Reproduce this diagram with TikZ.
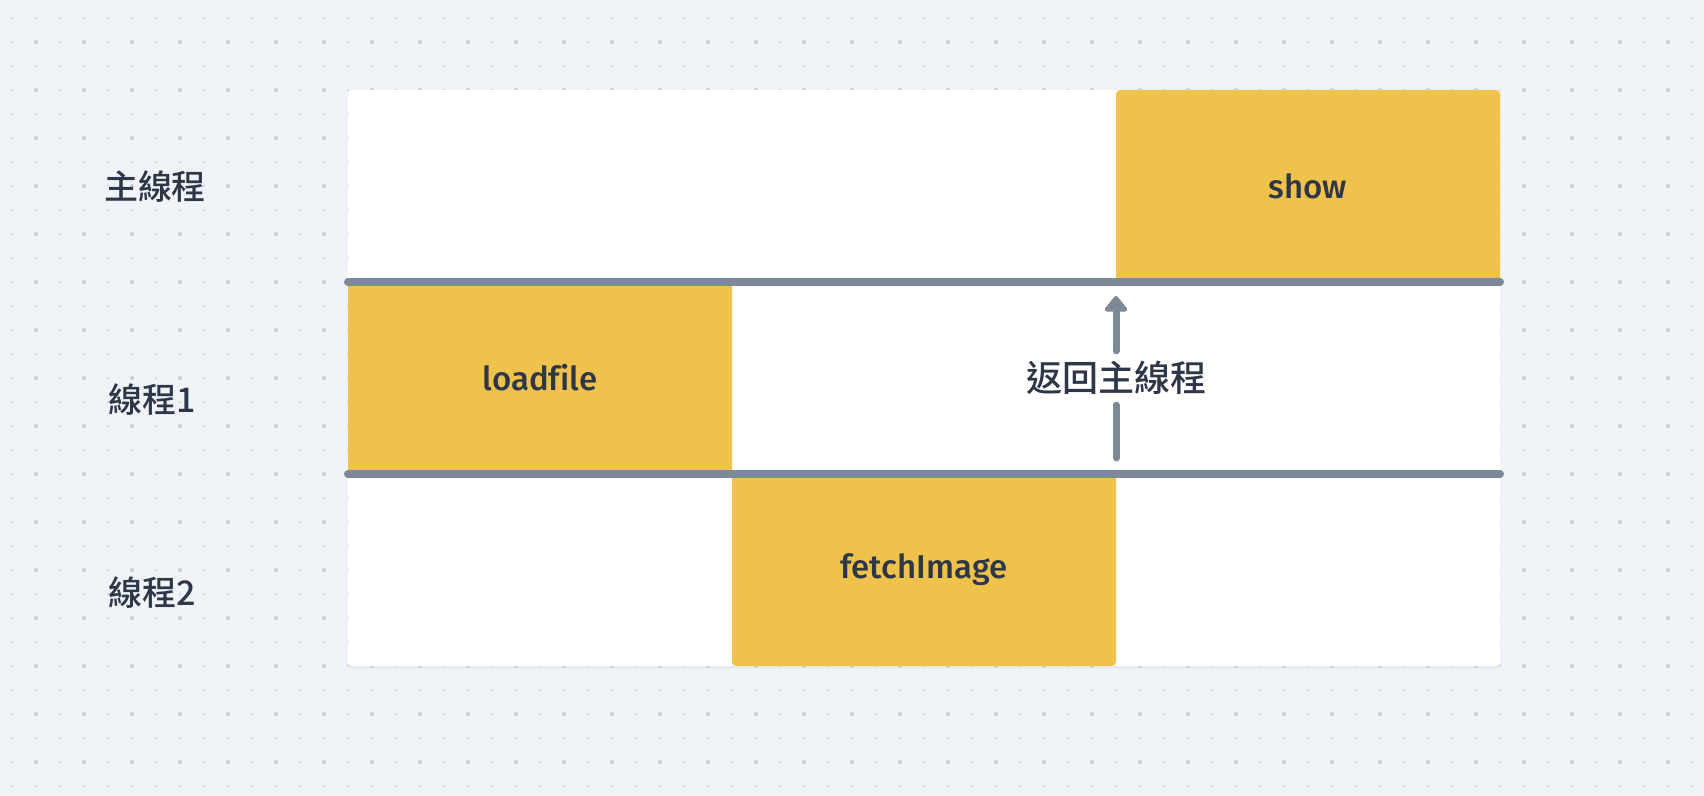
\documentclass[tikz,border=0pt]{standalone}
\usepackage{fontspec}
\setmainfont{Fira Sans}[UprightFont={* Medium},Ligatures={NoCommon}]
\newfontfamily\cjk{Noto Sans CJK TC}[UprightFont={* Medium}]
\usepackage{tikz}
\usetikzlibrary{arrows.meta,positioning,calc,shadows}
\definecolor{boardBg}{RGB}{240,243,247}
\definecolor{boardDot}{RGB}{203,209,220}
\definecolor{taskYellow}{RGB}{239,194,75}
\definecolor{laneGray}{RGB}{125,137,150}
\definecolor{inkDark}{RGB}{45,55,72}

\begin{document}
\begin{tikzpicture}[
  x=0.5pt,y=-0.5pt,
  task/.style={fill=taskYellow,rounded corners=2pt,minimum width=192pt,minimum height=96pt,outer sep=0pt,inner sep=0pt,text=inkDark,font=\fontsize{16.5}{20}\selectfont},
  lane/.style={text=inkDark,font=\cjk\fontsize{17}{20}\selectfont},
  sep/.style={draw=laneGray,line width=4pt,line cap=round},
  flow/.style={draw=laneGray,line width=3.5pt,line cap=round,-{Triangle[width=13pt,length=8.5pt,round]}},
  stem/.style={draw=laneGray,line width=3.5pt,line cap=round}
]
  \useasboundingbox[fill=boardBg] (0,0) rectangle (1704,796);
  \foreach \i in {0,...,70}
    \foreach \j in {0,...,32}
      \fill[boardDot] (12+24*\i,18+24*\j) circle (0.55pt);
  \foreach \i in {0,...,34}
    \foreach \j in {0,...,15}
      \fill[boardDot] (36+48*\i,42+48*\j) circle (1.1pt);

  \node[fill=white,rounded corners=2pt,minimum width=576pt,minimum height=288pt,outer sep=0pt,
        drop shadow={opacity=0.06,shadow xshift=0pt,shadow yshift=-1.5pt}] (board) at (924,378) {};

  \node[task] (show) at (1308,186) {show};
  \node[task] (loadfile) at (540,378) {loadfile};
  \node[task] (fetch) at (924,570) {fetchImage};

  \draw[sep] (loadfile.north west) -- (show.south east);
  \draw[sep] (loadfile.south west) -- (loadfile.south west -| show.east);

  \node[lane] (main) at (155,187) {主線程};
  \node[lane] (t1) at (152,400) {線程1};
  \node[lane] (t2) at (152,593) {線程2};

  \node[lane,inner sep=0pt,font=\cjk\fontsize{18}{20}\selectfont] (back) at (1116,378) {返回主線程};
  \draw[stem,shorten <=8pt,shorten >=5pt] (back |- fetch.north) -- (back.south);
  \draw[flow,shorten <=5pt,shorten >=7pt] (back.north) -- (back |- show.south);
\end{tikzpicture}
\end{document}
